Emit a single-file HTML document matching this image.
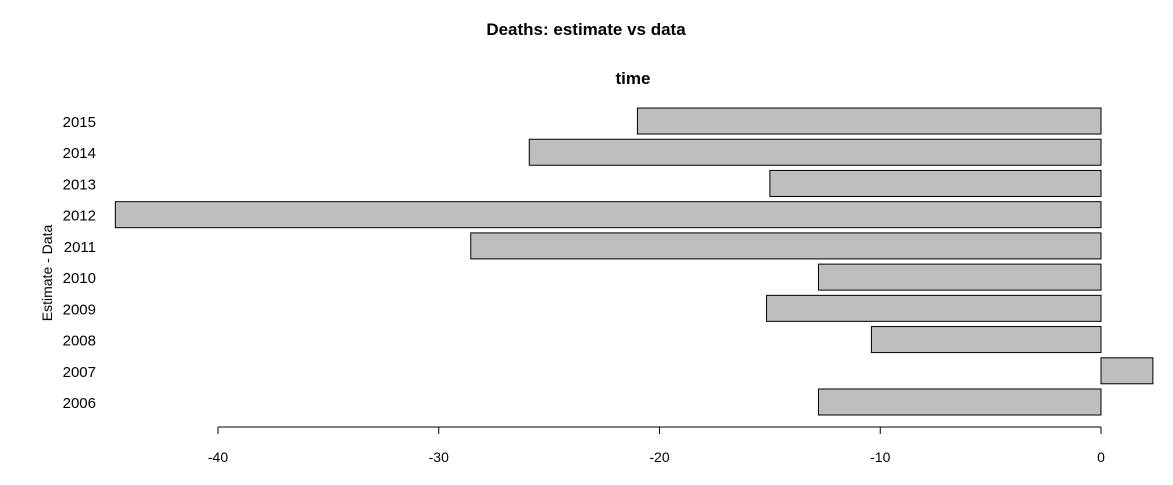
<!DOCTYPE html>
<html><head><meta charset="utf-8"><style>
body{margin:0;background:#fff}
svg{display:block;font-family:"Liberation Sans",Arial,sans-serif}
</style></head><body>
<svg id="chart" width="1173" height="485">
<text x="586" y="35" text-anchor="middle" font-size="17" font-weight="bold">Deaths: estimate vs data</text>
<text x="633" y="84" text-anchor="middle" font-size="17" font-weight="bold">time</text>
<text transform="translate(52,273) rotate(-90)" text-anchor="middle" font-size="14">Estimate - Data</text>
<g id="bars"></g><g id="ylabels"></g><g id="xaxis"></g>
</svg>
<script>
const years=["2006","2007","2008","2009","2010","2011","2012","2013","2014","2015"];
const values=[-12.8,2.35,-10.4,-15.15,-12.8,-28.55,-44.65,-15.0,-25.9,-21.0];
const ticks=[-40,-30,-20,-10,0];
const x=v=>1101+v*22.075;
const y=i=>402-i*31.22;
const ns="http://www.w3.org/2000/svg";
const bars=document.getElementById('bars'),yl=document.getElementById('ylabels'),xa=document.getElementById('xaxis');
values.forEach((v,i)=>{
 const r=document.createElementNS(ns,'rect');
 r.setAttribute('x',Math.min(x(0),x(v)));r.setAttribute('width',Math.abs(x(v)-x(0)));
 r.setAttribute('y',y(i)-13);r.setAttribute('height',26);
 r.setAttribute('fill','#bebebe');r.setAttribute('stroke','#000');
 
 
 bars.appendChild(r);
 const t=document.createElementNS(ns,'text');
 t.setAttribute('x',96);t.setAttribute('y',y(i)+6);t.setAttribute('text-anchor','end');t.setAttribute('font-size','15');
 t.textContent=years[i];
 
 
 yl.appendChild(t);
});
const ax=document.createElementNS(ns,'line');
ax.setAttribute('x1',x(ticks[0]));ax.setAttribute('x2',x(ticks[ticks.length-1]));ax.setAttribute('y1',427);ax.setAttribute('y2',427);ax.setAttribute('stroke','#000');


xa.appendChild(ax);
ticks.forEach(v=>{
 const l=document.createElementNS(ns,'line');
 l.setAttribute('x1',x(v));l.setAttribute('x2',x(v));l.setAttribute('y1',427);l.setAttribute('y2',434);l.setAttribute('stroke','#000');
 
 
 xa.appendChild(l);
 const t=document.createElementNS(ns,'text');
 t.setAttribute('x',x(v));t.setAttribute('y',462);t.setAttribute('text-anchor','middle');t.setAttribute('font-size','14');
 t.textContent=v;
 
 
 xa.appendChild(t);
});
</script>
</body></html>
